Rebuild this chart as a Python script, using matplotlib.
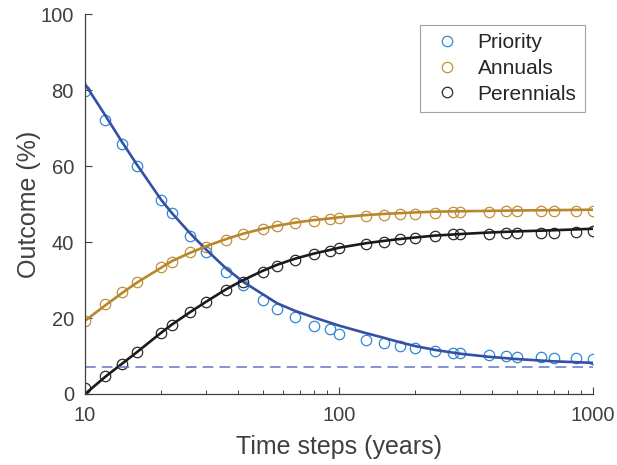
import matplotlib
matplotlib.use("Agg")
import matplotlib.pyplot as plt
from matplotlib.ticker import LogLocator, NullFormatter, FixedLocator

plt.rcParams['font.family'] = ['Liberation Sans', 'DejaVu Sans']

# simulated outcomes (points)
years = [10, 12, 14, 16, 20, 22, 26, 30, 36, 42, 50, 57, 67, 80, 92, 100,
         128, 150, 174, 200, 239, 282, 300, 388, 453, 500, 622, 700, 857, 1000]
priority = [79.7, 72.2, 65.7, 59.9, 51.0, 47.7, 41.6, 37.3, 32.2, 28.7, 24.7,
            22.5, 20.3, 17.9, 17.0, 15.9, 14.2, 13.3, 12.6, 12.0, 11.3, 10.7,
            10.7, 10.3, 10.0, 9.8, 9.8, 9.6, 9.4, 9.2]
annuals = [19.2, 23.6, 26.9, 29.4, 33.5, 34.7, 37.3, 38.7, 40.5, 42.1, 43.3,
           44.2, 44.9, 45.6, 46.0, 46.2, 46.8, 47.1, 47.3, 47.5, 47.7, 47.9,
           47.9, 48.0, 48.1, 48.1, 48.1, 48.2, 48.2, 48.2]
perennials = [1.6, 4.8, 7.9, 11.0, 16.0, 18.1, 21.6, 24.3, 27.5, 29.5, 32.2,
              33.7, 35.2, 36.8, 37.7, 38.3, 39.6, 40.0, 40.7, 41.1, 41.5, 42.0,
              42.0, 42.2, 42.4, 42.4, 42.5, 42.5, 42.7, 42.9]

# fitted curves
fit_x = [10, 12, 14, 16, 20, 22, 26, 30, 36, 42, 50, 57, 67, 80, 92, 100,
         128, 150, 174, 200, 239, 300, 388, 500, 700, 1000]
fit_priority = [81.6, 73.4, 66.3, 60.4, 51.0, 47.6, 42.2, 38.0, 33.0, 29.5,
                26.3, 23.9, 21.9, 20.1, 18.8, 18.0, 16.0, 14.8, 13.6, 12.6,
                11.6, 10.6, 9.8, 9.2, 8.6, 8.2]
fit_annuals = [19.3, 23.3, 26.6, 29.3, 33.3, 35.0, 37.2, 38.9, 40.8, 42.2,
               43.5, 44.3, 45.1, 45.8, 46.2, 46.5, 47.1, 47.4, 47.6, 47.8,
               48.0, 48.1, 48.2, 48.3, 48.4, 48.5]
fit_perennials = [0.0, 4.5, 8.0, 11.0, 16.2, 18.3, 21.6, 24.3, 27.6, 30.0,
                  32.4, 34.0, 35.6, 37.0, 37.9, 38.5, 39.7, 40.3, 40.8, 41.2,
                  41.7, 42.1, 42.5, 42.8, 43.1, 43.5]
baseline = 7.2

fig = plt.figure(figsize=(6.17, 4.65), dpi=100)
ax = fig.add_axes([0.1378, 0.1527, 0.8233, 0.817])

c_txt = '#404040'
ax.plot(years, priority, 'o', mfc='none', mec='#2e8ad4', ms=7.5, mew=0.9, label='Priority')
ax.plot(years, annuals, 'o', mfc='none', mec='#c48f3a', ms=7.5, mew=0.9, label='Annuals')
ax.plot(years, perennials, 'o', mfc='none', mec='#2a2a2a', ms=7.5, mew=0.9, label='Perennials')
ax.plot(fit_x, fit_priority, '-', color='#3450a4', lw=1.9)
ax.plot(fit_x, fit_annuals, '-', color='#b8862c', lw=1.9)
ax.plot(fit_x, fit_perennials, '-', color='#1a1a1a', lw=1.9)
ax.plot([10, 1000], [baseline, baseline], '--', color='#6474c6', lw=1.1, dashes=(7, 4))

ax.set_xscale('log')
ax.set_xlim(10, 1000)
ax.set_ylim(0, 100)
ax.set_xticks([10, 100, 1000])
ax.set_xticklabels(['10', '100', '1000'])
ax.xaxis.set_minor_locator(LogLocator(base=10, subs=range(2, 10)))
ax.xaxis.set_minor_formatter(NullFormatter())
ax.yaxis.set_major_locator(FixedLocator([0, 20, 40, 60, 80, 100]))

for s in ['top', 'right']:
    ax.spines[s].set_visible(False)
for s in ['left', 'bottom']:
    ax.spines[s].set_color(c_txt)
    ax.spines[s].set_linewidth(0.9)
ax.tick_params(which='major', direction='in', length=5, width=0.8, colors=c_txt,
               labelsize=14.5, labelcolor=c_txt)
ax.tick_params(which='minor', direction='in', length=3, width=0.7, colors=c_txt)
ax.tick_params(axis='x', pad=9)
ax.tick_params(axis='y', pad=8)

ax.set_xlabel('Time steps (years)', fontsize=18, color=c_txt, labelpad=6.5)
ax.set_ylabel('Outcome (%)', fontsize=18, color=c_txt, labelpad=-0.5)

leg = ax.legend(loc='upper right', bbox_to_anchor=(0.984, 0.971), borderaxespad=0,
                fontsize=15, frameon=True, fancybox=False, handlelength=1.8,
                handletextpad=0.55, borderpad=0.4, labelspacing=0.32)
leg.get_frame().set_edgecolor('#8a8a8a')
leg.get_frame().set_linewidth(0.8)
for t in leg.get_texts():
    t.set_color('#262626')

fig.savefig('out.png', dpi=100)
